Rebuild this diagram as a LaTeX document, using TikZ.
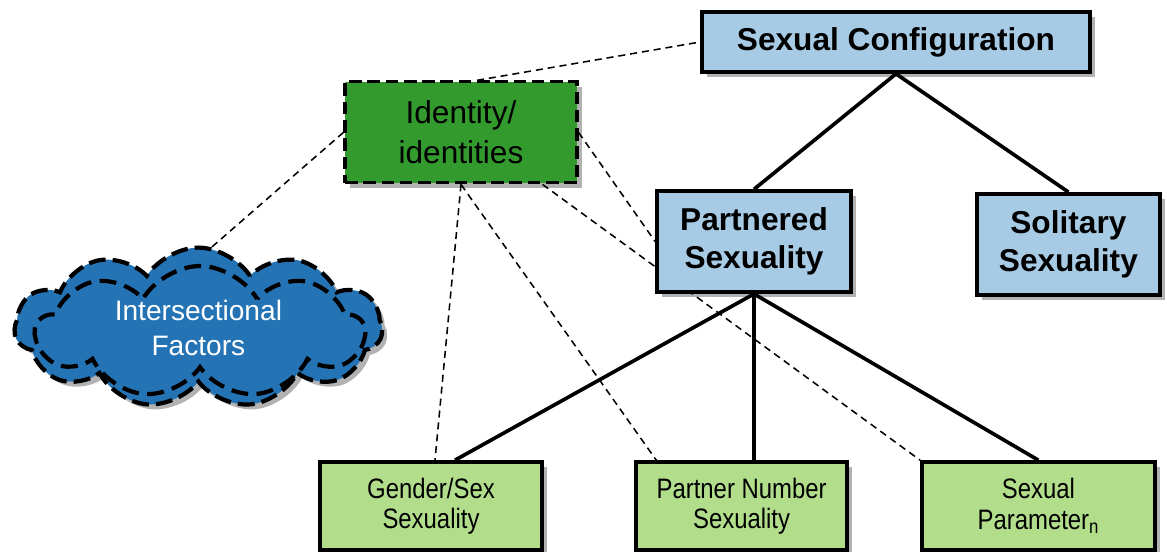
\documentclass[tikz,border=0pt]{standalone}
\usepackage{fontspec}
\setmainfont{Liberation Sans}
\newfontfamily\narrowfont[FakeStretch=0.85]{Liberation Sans}
\usepackage{tikz}
\usepackage{xcolor}
\usetikzlibrary{calc}
\usetikzlibrary{positioning}
\usetikzlibrary{shapes.symbols}
\usetikzlibrary{shadows}
\usetikzlibrary{backgrounds}
\definecolor{configColor}{HTML}{A7CBE4}
\definecolor{identityColor}{HTML}{339A2E}
\definecolor{dimensionColor}{HTML}{B2DE8C}
\definecolor{factorColor}{HTML}{2473B5}

\begin{document}
\begin{tikzpicture}[
		link/.style={draw=black, line width=2.6pt, line join=miter},
		relation/.style={draw=black, line width=1.1pt, dash pattern=on 5pt off 3.5pt},
		shadowed/.style={drop shadow={shadow xshift=3.5pt, shadow yshift=-3.5pt, opacity=0.3, fill=black}},
		level/.style={rectangle, draw=black, line width=2.6pt, fill=configColor, align=center, inner sep=2pt, font=\fontsize{22.5}{27}\selectfont\bfseries, shadowed},
		identity/.style={rectangle, draw=black, line width=2.2pt, dash pattern=on 9pt off 4pt, fill=identityColor, align=center, font=\fontsize{22.5}{28.5}\selectfont, shadowed},
		dimension/.style={rectangle, draw=black, line width=2.6pt, fill=dimensionColor, align=center, minimum height=2.2cm, font=\narrowfont\fontsize{20}{21.5}\selectfont, shadowed},
		factor/.style={cloud, cloud puffs=11, cloud puff arc=115, cloud ignores aspect, draw=black, line width=3pt, dash pattern=on 12pt off 5pt, fill=factorColor, text=white, align=center, font=\fontsize{20}{25}\selectfont, shadowed},
		factor rim/.style={cloud, cloud puffs=9, cloud puff arc=120, cloud ignores aspect, draw=black, line width=3pt, dash pattern=on 12pt off 6pt, dash phase=6pt},
	]
	\useasboundingbox (0, 0) rectangle (29.175, 13.8);
	% Configuration levels
	\node[level, minimum width=9.7cm, minimum height=1.5cm] (config) at (22.4, 12.75) {Sexual Configuration};
	\node[level, minimum width=4.85cm, minimum height=2.525cm] (partnered) at (18.85, 7.76) {Partnered\\Sexuality};
	\node[level, minimum width=4.575cm, minimum height=2.525cm] (solitary) at (26.71, 7.69) {Solitary\\Sexuality};
	% Identity and factors
	\node[identity, minimum width=5.8cm, minimum height=2.525cm] (identity) at (11.525, 10.49) {Identity/\\identities};
	\node[factor, minimum width=9.2cm, minimum height=4.0cm] (factors) at (4.96, 5.61) {Intersectional\\Factors};
	\node[factor rim, minimum width=8.2cm, minimum height=3.3cm] (factors rim) at (5.0, 5.5) {};
	% Dimensions
	\node[dimension, minimum width=5.55cm] (gender) at (10.775, 1.15) {Gender/Sex\\Sexuality};
	\node[dimension, minimum width=5.275cm] (number) at (18.54, 1.15) {Partner Number\\Sexuality};
	\node[dimension, minimum width=5.825cm] (parameter) at (25.96, 1.15) {Sexual\\Parameter\textsubscript{n}};
	\begin{pgfonlayer}{background}
		% Tree links
		\draw[link] (partnered.north) -- (config.south) -- (solitary.north);
		\draw[link] (partnered.south) -- ([xshift=0.6cm]gender.north);
		\draw[link] (partnered.south) -- (partnered.south |- number.north);
		\draw[link] (partnered.south) -- (parameter.north);
		% Identity relations
		\draw[relation] ([xshift=0.4cm]identity.north) -- (config.west);
		\draw[relation] (identity.west) -- ([xshift=0.15cm, yshift=-0.2cm]factors.north);
		\draw[relation] (identity.south) -- ([xshift=0.1cm]gender.north);
		\draw[relation] (identity.south) -- ([xshift=0.55cm]number.north west);
		\draw[relation] (identity.east) -- (partnered.west);
		\draw[relation] ([xshift=-0.9cm]identity.south east) -- (parameter.north west);
	\end{pgfonlayer}
\end{tikzpicture}
\end{document}
